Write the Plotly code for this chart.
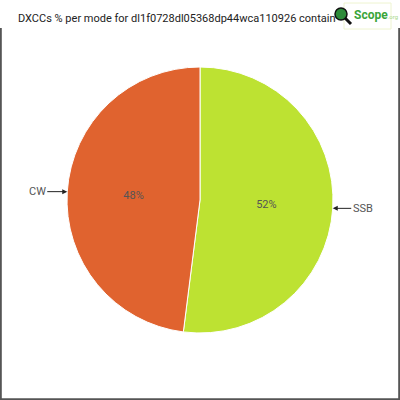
import math
import plotly.graph_objects as go

# Data
modes = ['SSB', 'CW']
shares = [52, 48]
colors = ['#bde232', '#e0632f']
title_text = 'DXCCs % per mode for dl1f0728dl05368dp44wca110926 contains'

W, H = 400, 400
cx, cy, r = 200, 200, 133  # pie center / radius in px

fig = go.Figure()

fig.add_trace(go.Pie(
    labels=modes,
    values=shares,
    sort=False,
    direction='clockwise',
    rotation=0,
    marker=dict(colors=colors, line=dict(color='white', width=1)),
    texttemplate='%{percent:.0%}',
    textposition='inside',
    insidetextorientation='horizontal',
    textfont=dict(color='#555555', size=11),
    hoverinfo='skip',
    showlegend=False,
    domain=dict(x=[(cx - r) / W, (cx + r) / W], y=[(cy - r) / H, (cy + r) / H]),
))

# title as a fixed-width annotation: it gets clipped before the logo, like in the original
annotations = [dict(
    x=16 / W, y=1 - 19 / H, xref='paper', yref='paper', xanchor='left', yanchor='middle',
    text=title_text, showarrow=False, width=318, align='left',
    font=dict(size=11, color='#222222', family='Roboto, sans-serif'),
)]

# outside labels with arrows, placed at each slice's mid angle
total = sum(shares)
start = 0.0
for mode, v in zip(modes, shares):
    mid = (start + v / 2) / total * 2 * math.pi
    start += v
    px = cx + r * math.sin(mid)
    py = cy - r * math.cos(mid)
    side = 1 if math.sin(mid) > 0 else -1
    annotations.append(dict(
        x=px / W, y=1 - py / H, xref='paper', yref='paper',
        text=mode, showarrow=True, arrowhead=2, arrowsize=1, arrowwidth=1,
        arrowcolor='#222222', standoff=0, ax=side * 30, ay=0,
        font=dict(size=11, color='#555555'),
    ))

# logo text
annotations.append(dict(
    x=352 / W, y=1 - 15 / H, xref='paper', yref='paper', xanchor='left', yanchor='middle',
    text='<b>Scope</b><span style="font-size:6px;color:#a8d888">.org</span>',
    showarrow=False,
    font=dict(size=12, color='#3aa53a', family='Roboto, sans-serif'),
))

def px_x(v):
    return v / W

def px_y(v):
    return 1 - v / H

shapes = [
    # frame without a top edge
    dict(type='path', xref='paper', yref='paper',
         path='M 0.002 0.93 L 0.002 0.002 L 0.998 0.002 L 0.998 0.93',
         line=dict(color='#555555', width=2)),
    # logo box
    dict(type='rect', xref='paper', yref='paper', x0=px_x(344), x1=px_x(391), y0=px_y(29), y1=px_y(3),
         fillcolor='white', line=dict(color='#eef4d0', width=1), layer='above'),
    # magnifier handle + globe
    dict(type='line', xref='paper', yref='paper', x0=px_x(344), x1=px_x(351), y0=px_y(17), y1=px_y(24),
         line=dict(color='#111111', width=3), layer='above'),
    dict(type='circle', xref='paper', yref='paper', x0=px_x(335), x1=px_x(347), y0=px_y(20), y1=px_y(8),
         fillcolor='#2e8b3a', line=dict(color='#111111', width=1.5), layer='above'),
]

fig.update_layout(
    width=W, height=H,
    margin=dict(l=0, r=0, t=0, b=0),
    paper_bgcolor='white',
    annotations=annotations,
    shapes=shapes,
    font=dict(family='Roboto, sans-serif'),
)

fig.write_html('out.html', config={'displayModeBar': False},
               post_script="document.body.style.margin='0';")
